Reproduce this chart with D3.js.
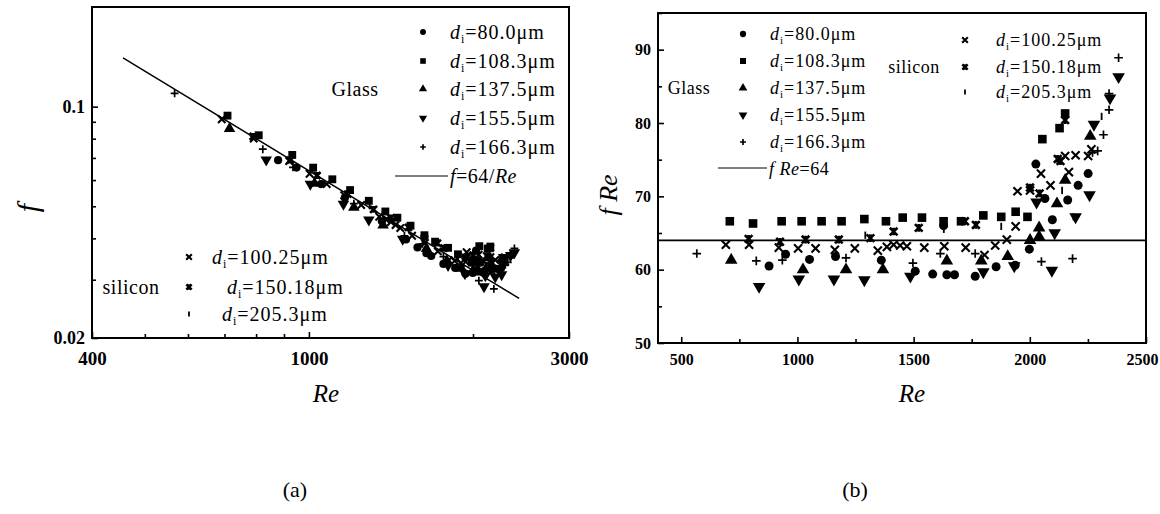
<!DOCTYPE html>
<html>
<head>
<meta charset="utf-8">
<script src="https://cdn.jsdelivr.net/npm/d3@7"></script>
<style>
  body { margin: 0; background: #fff; }
  svg { display: block; }
</style>
</head>
<body>
<svg id="chart" width="1160" height="514"></svg>
<script>
// Measured points, each [Re, fRe]
const glass80 = [[878,60.5],[949,62.1],[1052,61.4],[1164,61.8],[1361,61.3],[1507,59.8],[1582,59.4],[1643,59.3],[1676,59.3],[1765,59.1],[1855,60.4],[1937,60.6],[1998,62.8],[2026,74.4],[2065,69.7],[2097,66.8],[2163,69.5],[2208,71.5],[2251,73.1],[1629,66.0]];
const glass108 = [[709,66.6],[809,66.3],[932,66.6],[1018,66.6],[1104,66.6],[1190,66.6],[1288,66.9],[1381,66.6],[1453,67.1],[1536,67.1],[1629,66.6],[1704,66.6],[1800,67.4],[1877,67.2],[1939,67.9],[1990,67.2],[2054,77.8],[2128,79.3],[2152,81.3]];
const glass137 = [[715,61.3],[1024,60.0],[1209,60.0],[1368,60.0],[1643,61.2],[1791,61.2],[1905,61.8],[2001,64.0],[2040,64.5],[2040,65.7],[2117,69.0],[2152,72.2],[2260,78.2]];
const glass155 = [[835,57.7],[1006,58.7],[1157,58.7],[1288,58.6],[1486,59.1],[1800,59.7],[1933,60.5],[2095,59.9],[2029,69.2],[2107,65.0],[2197,67.2],[2257,70.2],[2276,79.8],[2345,83.4],[2382,86.3]];
const glass166 = [[567,62.2],[823,61.2],[935,61.3],[1209,61.6],[1497,60.9],[1615,62.2],[1765,62.2],[2050,61.1],[2184,61.5],[2270,76.0],[2292,76.2],[2317,78.4],[2341,81.8],[2341,84.0],[2382,88.9]];
const silicon100 = [[692,63.4],[792,63.4],[920,63.0],[1003,62.9],[1078,62.9],[1161,62.7],[1247,62.9],[1346,62.6],[1385,63.1],[1414,63.4],[1442,63.3],[1471,63.2],[1546,63.0],[1632,63.2],[1724,63.0],[1805,62.0],[1851,63.3],[1901,64.1],[1939,65.9],[1947,70.7],[2001,70.8],[2048,73.1],[2089,71.5],[2152,75.5],[2168,73.3],[2197,75.6],[2251,75.5],[2265,76.4]];
const silicon150 = [[790,64.2],[925,63.8],[1035,64.1],[1178,64.1],[1314,64.3],[1414,65.2],[1522,65.7],[1721,66.6],[1768,66.1],[2001,71.2],[2042,70.4],[2120,75.1],[2132,74.8],[2152,80.4]];
const silicon205 = [[1292,64.7],[1630,65.5],[1877,65.9],[2139,70.8],[2188,67.2],[2309,80.9]];

// Legend labels (channel diameters)
const glassDiam = ["80.0", "108.3", "137.5", "155.5", "166.3"];
const siliconDiam = ["100.25", "150.18", "205.3"];

// Axis ticks
const aXTicks = [400, 1000, 3000];
const aXMinor = [500, 600, 700, 800, 900, 2000];
const aYTicks = [0.02, 0.1];
const aYTickLabels = ["0.02", "0.1"];
const aYMinor = [0.03, 0.04, 0.05, 0.06, 0.07, 0.08, 0.09];
const bXTicks = [500, 1000, 1500, 2000, 2500];
const bXMinor = [750, 1250, 1750, 2250];
const bYTicks = [50, 60, 70, 80, 90];
const bYMinor = [55, 65, 75, 85, 95];

// Theory: laminar f = 64/Re
const laminarC = 64;
const aLineRe = [456, 2430];
const bLineRe = [400, 2500];

const FONT = "'Liberation Serif','Times New Roman',serif";
const svg = d3.select("#chart");

// Marker shapes
const plusType = { draw(c, s) { const r = Math.sqrt(s) / 2; c.moveTo(-r, 0); c.lineTo(r, 0); c.moveTo(0, -r); c.lineTo(0, r); } };
const timesType = { draw(c, s) { const r = Math.sqrt(s) / 2; c.moveTo(-r, -r); c.lineTo(r, r); c.moveTo(-r, r); c.lineTo(r, -r); } };
const starType = { draw(c, s) { const r = Math.sqrt(s) / 2; c.moveTo(-r, -r); c.lineTo(r, r); c.moveTo(-r, r); c.lineTo(r, -r); c.moveTo(0, -r); c.lineTo(0, r); } };
const barType = { draw(c, s) { const r = Math.sqrt(s) / 2; c.moveTo(0, -r); c.lineTo(0, r); } };

const series = [
  { data: glass80, shape: "circle" },
  { data: glass108, shape: "square" },
  { data: glass137, shape: "up" },
  { data: glass155, shape: "down" },
  { data: glass166, shape: "plus" },
  { data: silicon100, shape: "x" },
  { data: silicon150, shape: "star" },
  { data: silicon205, shape: "bar" }
];

function mark(g, shape, x, y, k) {
  let p;
  switch (shape) {
    case "circle": p = g.append("path").attr("d", d3.symbol(d3.symbolCircle, 48 * k * k)()).attr("fill", "#000"); break;
    case "square": p = g.append("path").attr("d", d3.symbol(d3.symbolSquare, 56 * k * k)()).attr("fill", "#000"); break;
    case "up": p = g.append("path").attr("d", d3.symbol(d3.symbolTriangle, 52 * k * k)()).attr("fill", "#000"); break;
    case "down": p = g.append("path").attr("d", d3.symbol(d3.symbolTriangle, 52 * k * k)()).attr("fill", "#000"); break;
    case "plus": p = g.append("path").attr("d", d3.symbol(plusType, 56 * k * k)()).attr("stroke", "#000").attr("stroke-width", 1.7).attr("fill", "none"); break;
    case "x": p = g.append("path").attr("d", d3.symbol(timesType, 50 * k * k)()).attr("stroke", "#000").attr("stroke-width", 2.1).attr("fill", "none"); break;
    case "star": p = g.append("path").attr("d", d3.symbol(starType, 44 * k * k)()).attr("stroke", "#000").attr("stroke-width", 2.6).attr("fill", "none"); break;
    case "bar": p = g.append("path").attr("d", d3.symbol(barType, 40 * k * k)()).attr("stroke", "#000").attr("stroke-width", 1.8).attr("fill", "none"); break;
  }
  p.attr("transform", `translate(${x},${y})` + (shape === "down" ? " rotate(180)" : ""));
}

function diamLabel(g, x, y, value, size) {
  const t = g.append("text").attr("x", x).attr("y", y)
    .attr("font-family", FONT).attr("font-size", size).attr("letter-spacing", 1).attr("fill", "#000");
  t.append("tspan").attr("font-style", "italic").text("d");
  t.append("tspan").attr("font-size", size * 0.6).attr("dy", 4).text("i");
  t.append("tspan").attr("dy", -4).text("=" + value + "μm");
}

function styleAxis(g, size) {
  g.select(".domain").remove();
  g.selectAll(".tick line").attr("stroke", "#000").attr("stroke-width", 1.6);
  g.selectAll("text").attr("font-family", FONT).attr("font-size", size)
    .attr("font-weight", "bold").attr("fill", "#000");
}

// ---------- Panel (a): f vs Re, log-log ----------
const A = { l: 92, r: 569, t: 7, b: 338 };
const xa = d3.scaleLog().domain([400, 3000]).range([A.l, A.r]);
const ya = d3.scaleLog().domain([0.02, 0.2]).range([A.b, A.t]);
const ga = svg.append("g");

ga.append("g").attr("transform", `translate(0,${A.b})`)
  .call(d3.axisBottom(xa).tickValues(aXTicks).tickFormat(d3.format("d")).tickSize(-6).tickPadding(14))
  .call(g => styleAxis(g, 19));
ga.append("g").attr("transform", `translate(0,${A.b})`)
  .call(d3.axisBottom(xa).tickValues(aXMinor).tickFormat("").tickSize(-4))
  .call(g => styleAxis(g, 19));
ga.append("g").attr("transform", `translate(${A.l},0)`)
  .call(d3.axisLeft(ya).tickValues(aYTicks).tickFormat((d, i) => aYTickLabels[i]).tickSize(-6).tickPadding(7))
  .call(g => styleAxis(g, 18));
ga.append("g").attr("transform", `translate(${A.l},0)`)
  .call(d3.axisLeft(ya).tickValues(aYMinor).tickFormat("").tickSize(-4))
  .call(g => styleAxis(g, 18));

ga.append("rect").attr("x", A.l).attr("y", A.t).attr("width", A.r - A.l).attr("height", A.b - A.t)
  .attr("fill", "none").attr("stroke", "#000").attr("stroke-width", 2);

ga.append("path")
  .datum(aLineRe)
  .attr("d", d3.line().x(d => xa(d)).y(d => ya(laminarC / d)))
  .attr("stroke", "#000").attr("stroke-width", 1.5).attr("fill", "none");

const pa = ga.append("g");
series.forEach(s => s.data.forEach(([re, fre]) => mark(pa, s.shape, xa(re), ya(fre / re), 1.05)));

// legend (a)
const glassRowsA = [32, 61, 89, 118, 147];
glassDiam.forEach((v, i) => {
  mark(ga, series[i].shape, 423, glassRowsA[i], 0.75);
  diamLabel(ga, 450, glassRowsA[i] + 7, v, 20);
});
ga.append("text").attr("x", 355).attr("y", glassRowsA[2] + 7).attr("text-anchor", "middle")
  .attr("font-family", FONT).attr("font-size", 20).attr("letter-spacing", 0.5).text("Glass");
ga.append("line").attr("x1", 395).attr("x2", 448).attr("y1", 176).attr("y2", 176)
  .attr("stroke", "#000").attr("stroke-width", 1);
{
  const t = ga.append("text").attr("x", 450).attr("y", 183).attr("font-family", FONT).attr("font-size", 20).attr("letter-spacing", 0.5);
  t.append("tspan").attr("font-style", "italic").text("f");
  t.append("tspan").text("=64/");
  t.append("tspan").attr("font-style", "italic").text("Re");
}
const silRowsA = [257, 287, 314];
const silTextXA = [212, 227, 222];
siliconDiam.forEach((v, i) => {
  mark(ga, series[5 + i].shape, 189, silRowsA[i], 0.8);
  diamLabel(ga, silTextXA[i], silRowsA[i] + 7, v, 20);
});
ga.append("text").attr("x", 131).attr("y", silRowsA[1] + 7).attr("text-anchor", "middle")
  .attr("font-family", FONT).attr("font-size", 20).attr("letter-spacing", 0.5).text("silicon");

// axis titles (a)
ga.append("text").attr("transform", "translate(38,208) rotate(-90)").attr("text-anchor", "middle")
  .attr("font-family", FONT).attr("font-size", 30).attr("font-style", "italic").text("f");
ga.append("text").attr("x", 326).attr("y", 402).attr("text-anchor", "middle")
  .attr("font-family", FONT).attr("font-size", 25).attr("font-style", "italic").text("Re");
ga.append("text").attr("x", 295).attr("y", 497).attr("text-anchor", "middle")
  .attr("font-family", FONT).attr("font-size", 22).text("(a)");

// ---------- Panel (b): fRe vs Re ----------
const B = { l: 658, r: 1146, t: 13, b: 343 };
const xb = d3.scaleLinear().domain([400, 2500]).range([B.l, B.r]);
const yb = d3.scaleLinear().domain([50, 95]).range([B.b, B.t]);
const gb = svg.append("g");

gb.append("g").attr("transform", `translate(0,${B.b})`)
  .call(d3.axisBottom(xb).tickValues(bXTicks).tickFormat(d3.format("d")).tickSize(-6).tickPadding(11))
  .call(g => styleAxis(g, 16))
  .call(g => g.selectAll(".tick text").filter(d => d === 2500).attr("dx", -4));
gb.append("g").attr("transform", `translate(0,${B.b})`)
  .call(d3.axisBottom(xb).tickValues(bXMinor).tickFormat("").tickSize(-4))
  .call(g => styleAxis(g, 16));
gb.append("g").attr("transform", `translate(${B.l},0)`)
  .call(d3.axisLeft(yb).tickValues(bYTicks).tickFormat(d3.format("d")).tickSize(-6).tickPadding(7))
  .call(g => styleAxis(g, 16));
gb.append("g").attr("transform", `translate(${B.l},0)`)
  .call(d3.axisLeft(yb).tickValues(bYMinor).tickFormat("").tickSize(-4))
  .call(g => styleAxis(g, 16));

gb.append("rect").attr("x", B.l).attr("y", B.t).attr("width", B.r - B.l).attr("height", B.b - B.t)
  .attr("fill", "none").attr("stroke", "#000").attr("stroke-width", 2);

gb.append("path")
  .datum(bLineRe)
  .attr("d", d3.line().x(d => xb(d)).y(() => yb(laminarC)))
  .attr("stroke", "#000").attr("stroke-width", 1.6).attr("fill", "none");

const pb = gb.append("g");
series.forEach(s => s.data.forEach(([re, fre]) => mark(pb, s.shape, xb(re), yb(fre), 1.15)));

// legend (b)
const glassRowsB = [34, 61, 88, 115, 142];
glassDiam.forEach((v, i) => {
  mark(gb, series[i].shape, 743, glassRowsB[i], 0.8);
  diamLabel(gb, 770, glassRowsB[i] + 6, v, 18);
});
gb.append("text").attr("x", 689).attr("y", glassRowsB[2] + 6).attr("text-anchor", "middle")
  .attr("font-family", FONT).attr("font-size", 18).attr("letter-spacing", 0.5).text("Glass");
gb.append("line").attr("x1", 718).attr("x2", 767).attr("y1", 168).attr("y2", 168)
  .attr("stroke", "#000").attr("stroke-width", 1);
{
  const t = gb.append("text").attr("x", 769).attr("y", 175).attr("font-family", FONT).attr("font-size", 18).attr("letter-spacing", 0.5);
  t.append("tspan").attr("font-style", "italic").text("f Re");
  t.append("tspan").text("=64");
}
const silRowsB = [40, 67, 92];
siliconDiam.forEach((v, i) => {
  mark(gb, series[5 + i].shape, 965, silRowsB[i], 0.8);
  diamLabel(gb, 996, silRowsB[i] + 6, v, 18);
});
gb.append("text").attr("x", 914).attr("y", silRowsB[1] + 6).attr("text-anchor", "middle")
  .attr("font-family", FONT).attr("font-size", 18).attr("letter-spacing", 0.5).text("silicon");

// axis titles (b)
gb.append("text").attr("transform", "translate(617,195) rotate(-90)").attr("text-anchor", "middle")
  .attr("font-family", FONT).attr("font-size", 26).attr("font-style", "italic").text("f Re");
gb.append("text").attr("x", 912).attr("y", 402).attr("text-anchor", "middle")
  .attr("font-family", FONT).attr("font-size", 25).attr("font-style", "italic").text("Re");
gb.append("text").attr("x", 855).attr("y", 497).attr("text-anchor", "middle")
  .attr("font-family", FONT).attr("font-size", 22).text("(b)");
</script>
</body>
</html>
